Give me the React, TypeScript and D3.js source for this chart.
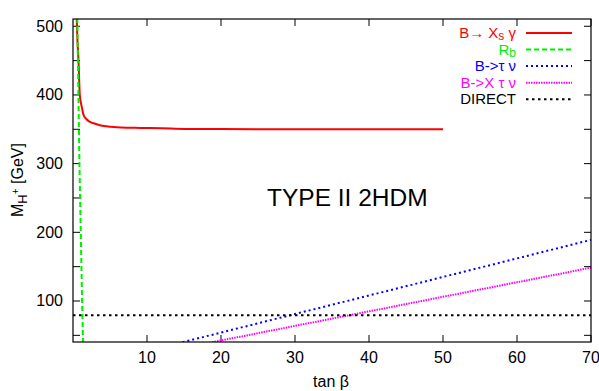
import React from "react";
import * as d3 from "d3";

// B -> Xs gamma bound
const bsgTanB = [0.5, 0.6, 0.74, 0.92, 1.2, 1.42, 1.8, 2.17, 3, 3.75, 5.1, 6.5, 9.2, 12, 15, 20, 30, 40, 50];
const bsgMass = [512, 480, 451, 400, 382, 371, 365, 361.5, 358, 355.6, 353.7, 352.5, 352, 351.5, 350.5, 350.3, 350.2, 350, 350];

// Rb bound
const rbTanB = [0.58, 0.87, 1.05, 1.23, 1.36];
const rbMass = [512, 300, 200, 100, 40];

// B -> tau nu
const btnTanB = [14.8, 70];
const btnMass = [40, 189];

// B -> X tau nu
const bxtnTanB = [18.8, 70];
const bxtnMass = [40, 148.5];

// direct search
const directTanB = [0, 70];
const directMass = [79.3, 79.3];

const xTicks = [10, 20, 30, 40, 50, 60, 70];
const yTicks = [50, 100, 150, 200, 250, 300, 350, 400, 450, 500];

const W = 599;
const H = 391;
const margin = { left: 73, right: 8, top: 19, bottom: 49 };
const font = "'Liberation Sans', Arial, sans-serif";

const zip = (xs: number[], ys: number[]) => xs.map((x, i) => [x, ys[i]] as [number, number]);

export default function App() {
  const x = d3.scaleLinear().domain([0, 70]).range([margin.left, W - margin.right]);
  const y = d3.scaleLinear().domain([40.3, 510.6]).range([H - margin.bottom, margin.top]);
  const line = d3
    .line<[number, number]>()
    .x((d) => x(d[0]))
    .y((d) => y(d[1]));
  const curve = d3
    .line<[number, number]>()
    .x((d) => x(d[0]))
    .y((d) => y(d[1]))
    .curve(d3.curveMonotoneX);

  const x0 = margin.left;
  const x1 = W - margin.right;
  const y0 = H - margin.bottom;
  const y1 = margin.top;

  const styles = [
    { color: "#ff0000", dash: "none" },
    { color: "#00ee00", dash: "5,3" },
    { color: "#0000ff", dash: "2,3" },
    { color: "#ff00ff", dash: "1.5,1" },
    { color: "#000000", dash: "2.5,3.5" },
  ];

  const paths = [
    curve(zip(bsgTanB, bsgMass)),
    line(zip(rbTanB, rbMass)),
    line(zip(btnTanB, btnMass)),
    line(zip(bxtnTanB, bxtnMass)),
    line(zip(directTanB, directMass)),
  ];

  const legBase = [38, 54.5, 71, 87.7, 104.3];
  const legTextX = 516;

  return (
    <svg
      width={W}
      height={H}
      style={{ position: "absolute", left: 0, top: 0, background: "#fff" }}
      fontFamily={font}
      fontSize={16}
    >
      <defs>
        <clipPath id="plot">
          <rect x={x0} y={y1} width={x1 - x0} height={y0 - y1} />
        </clipPath>
      </defs>

      {xTicks.map((t) => (
        <g key={"x" + t}>
          <line x1={x(t)} x2={x(t)} y1={y0} y2={y0 - 7} stroke="#000" />
          <line x1={x(t)} x2={x(t)} y1={y1} y2={y1 + 7} stroke="#000" />
          <text x={x(t)} y={y0 + 21} textAnchor="middle">{t}</text>
        </g>
      ))}
      {yTicks.map((t) => (
        <g key={"y" + t}>
          <line x1={x0} x2={x0 + 7} y1={y(t)} y2={y(t)} stroke="#000" />
          <line x1={x1} x2={x1 - 7} y1={y(t)} y2={y(t)} stroke="#000" />
          {t % 100 === 0 && (
            <text x={x0 - 10} y={y(t) + 5.5} textAnchor="end">{t}</text>
          )}
        </g>
      ))}

      <g clipPath="url(#plot)">
        {paths.map((d, i) => (
          <path key={i} d={d ?? ""} fill="none" stroke={styles[i].color} strokeWidth={2} strokeDasharray={styles[i].dash} />
        ))}
      </g>

      <rect x={x0} y={y1} width={x1 - x0} height={y0 - y1} fill="none" stroke="#000" strokeWidth={1.2} />

      {/* legend */}
      <g fontSize={15}>
        <text x={legTextX} y={legBase[0]} textAnchor="end" fill="#ff0000">
          B→ X<tspan dy={2} fontSize={12}>s</tspan><tspan dy={-2}> γ</tspan>
        </text>
        <text x={legTextX} y={legBase[1]} textAnchor="end" fill="#00ee00">
          R<tspan dy={2} fontSize={12}>b</tspan>
        </text>
        <text x={legTextX} y={legBase[2]} textAnchor="end" fill="#0000ff">B-&gt;τ ν</text>
        <text x={legTextX} y={legBase[3]} textAnchor="end" fill="#ff00ff">B-&gt;X τ ν</text>
        <text x={legTextX} y={legBase[4]} textAnchor="end" fill="#000">DIRECT</text>
      </g>
      {styles.map((l, i) => (
        <line key={"l" + i} x1={526} x2={572} y1={legBase[i] - 5} y2={legBase[i] - 5} stroke={l.color} strokeWidth={2} strokeDasharray={l.dash} />
      ))}

      <text x={267} y={206} fontSize={24.5}>TYPE II 2HDM</text>

      <text x={331} y={387} textAnchor="middle">tan β</text>
      <text transform="translate(23,180) rotate(-90)" textAnchor="middle">
        M<tspan dy={4} fontSize={13}>H</tspan><tspan dy={-8} fontSize={10}>+</tspan><tspan dy={4}> [GeV]</tspan>
      </text>
    </svg>
  );
}
